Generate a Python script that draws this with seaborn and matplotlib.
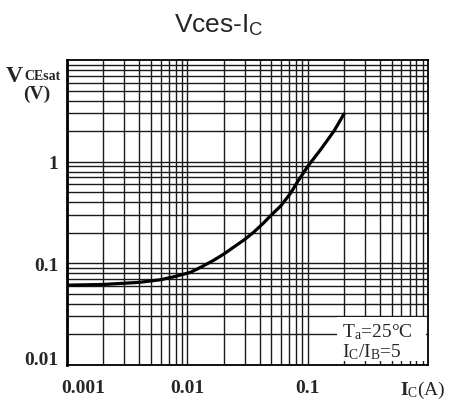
import numpy as np
import pandas as pd
import matplotlib
matplotlib.use("Agg")
import matplotlib.pyplot as plt
import matplotlib.transforms as mtransforms
from matplotlib.patches import Rectangle
from matplotlib.ticker import LogLocator, NullFormatter
import seaborn as sns

# DATA
ic_amps = [0.001, 0.002, 0.004, 0.006, 0.008, 0.0106, 0.0135, 0.0165, 0.02,
           0.025, 0.03, 0.036, 0.043, 0.05, 0.06, 0.072, 0.084, 0.1, 0.13,
           0.165, 0.2]
vce_sat = [0.061, 0.062, 0.065, 0.069, 0.0745, 0.0815, 0.094, 0.107, 0.123,
           0.148, 0.172, 0.205, 0.25, 0.30, 0.37, 0.49, 0.66, 0.90, 1.35,
           2.0, 2.95]
x_ticks = [0.001, 0.01, 0.1]
x_ticklabels = ["0.001", "0.01", "0.1"]
y_ticks = [0.01, 0.1, 1]
y_ticklabels = ["0.01", "0.1", "1"]

sns.set_style("white")
plt.rcParams['font.family'] = ['Liberation Serif', 'DejaVu Serif']
plt.rcParams['mathtext.fontset'] = 'custom'
plt.rcParams['mathtext.rm'] = 'Liberation Serif'
plt.rcParams['mathtext.bf'] = 'Liberation Serif:bold'
plt.rcParams['mathtext.it'] = 'Liberation Serif:italic'

df = pd.DataFrame({'Ic': ic_amps, 'Vce': vce_sat})

fig = plt.figure(figsize=(4.55, 4.02), dpi=100)
ax = fig.add_axes([0.147, 0.0896, 0.794, 0.7584])

sns.lineplot(data=df, x='Ic', y='Vce', color='black', linewidth=2.3, ax=ax, zorder=5)
ax.set_xscale('log')
ax.set_yscale('log')
ax.set_xlim(0.001, 1)
ax.set_ylim(0.01, 10)

# dense log grid like the printed chart
ax.xaxis.set_minor_locator(LogLocator(base=10, subs=np.arange(2, 10)))
ax.yaxis.set_minor_locator(LogLocator(base=10, subs=np.arange(2, 10)))
ax.xaxis.set_minor_formatter(NullFormatter())
ax.yaxis.set_minor_formatter(NullFormatter())
ax.grid(True, which='both', color='#1a1a1a', linewidth=1.0)
ax.set_axisbelow(True)

ax.set_xticks(x_ticks)
ax.set_xticklabels(x_ticklabels, fontsize=14, fontweight='bold')
ax.set_yticks(y_ticks)
ax.set_yticklabels(y_ticklabels, fontsize=14, fontweight='bold')
ax.tick_params(axis='x', which='both', length=0, pad=10)
ax.tick_params(axis='y', which='both', length=0, pad=6)
ax.set_xlabel('')
ax.set_ylabel('')

# first x label sits a bit right of the axis corner, first y label a bit up
lab0 = ax.get_xticklabels()[0]
lab0.set_transform(lab0.get_transform() + mtransforms.ScaledTranslation(16 / 100, 0, fig.dpi_scale_trans))
ylab0 = ax.get_yticklabels()[0]
ylab0.set_transform(ylab0.get_transform() + mtransforms.ScaledTranslation(0, 7 / 100, fig.dpi_scale_trans))

for sp in ax.spines.values():
    sp.set_color('black')
    sp.set_linewidth(1.3)
ax.spines['left'].set_linewidth(2.0)

# condition box
ax.add_patch(Rectangle((0.748, 0.012), 0.245, 0.146, transform=ax.transAxes,
                       facecolor='white', edgecolor='none', zorder=4))
ax.text(0.762, 0.112, 'T$_\\mathregular{a}$=25°C', transform=ax.transAxes,
        fontsize=14, va='center', ha='left', zorder=6)
ax.text(0.762, 0.045, r'I$_\mathregular{C}$/I$_\mathregular{B}$=5', transform=ax.transAxes,
        fontsize=14, va='center', ha='left', zorder=6)

# axis labels placed like the datasheet
fig.text(0.013, 0.795, 'V', fontsize=17, fontweight='bold', ha='left', va='baseline')
fig.text(0.054, 0.800, 'CEsat', fontsize=10, fontweight='bold', ha='left', va='baseline')
fig.text(0.05, 0.755, '(V)', fontsize=14, fontweight='bold', ha='left', va='baseline')
fig.text(0.879, 0.03, r'$\mathbf{I}_{\mathregular{C}}$(A)', fontsize=14, ha='left', va='center')

fig.text(0.48, 0.937, r'Vces-I$_\mathregular{C}$', fontsize=19, ha='center', va='center',
         family=['Liberation Sans', 'DejaVu Sans'])

fig.savefig('out.png', dpi=100)
